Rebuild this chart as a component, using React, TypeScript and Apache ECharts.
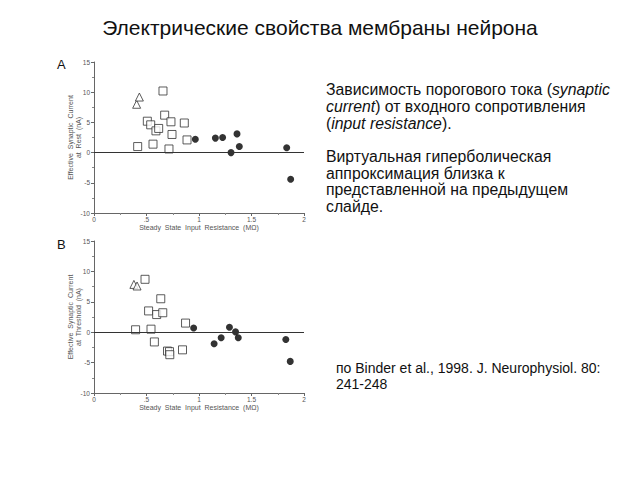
import React, { useEffect, useRef } from "react";
import * as echarts from "echarts";

const xTicks = [0, 0.5, 1, 1.5, 2];
const xTickLabels = ["0", ".5", "1", "1.5", "2"];
const yTicks = [-10, -5, 0, 5, 10, 15];

// Panel A: Effective synaptic current at rest (nA)
const restTriangles = [[0.406, 8.0], [0.432, 9.2]];
const restSquares = [
  [0.657, 10.2], [0.508, 5.2], [0.54, 4.6], [0.59, 3.6], [0.616, 4.0],
  [0.673, 6.2], [0.733, 5.1], [0.86, 4.9], [0.743, 3.0], [0.886, 2.1],
  [0.416, 1.0], [0.562, 1.4], [0.714, 0.6],
];
const restCircles = [
  [0.965, 2.2], [1.156, 2.4], [1.225, 2.5], [1.362, 3.1], [1.305, 0.0],
  [1.384, 1.0], [1.835, 0.8], [1.873, -4.4],
];

// Panel B: Effective synaptic current at threshold (nA)
const thrTriangles = [[0.38, 7.86], [0.41, 7.6]];
const thrSquares = [
  [0.486, 8.7], [0.636, 5.5], [0.52, 3.5], [0.597, 2.9], [0.655, 3.2],
  [0.396, 0.4], [0.543, 0.5], [0.575, -1.6], [0.872, 1.5], [0.70, -3.1],
  [0.719, -3.2], [0.722, -3.7], [0.843, -2.9],
];
const thrCircles = [
  [0.949, 0.7], [1.144, -1.9], [1.211, -0.9], [1.29, 0.8], [1.348, 0.05],
  [1.374, -0.9], [1.827, -1.2], [1.869, -4.8],
];

const title = "Электрические свойства мембраны нейрона";
const xName = "Steady  State  Input  Resistance  (MΩ)";
const yNameA = "Effective  Synaptic  Current\nat  Rest  (nA)";
const yNameB = "Effective  Synaptic  Current\nat  Threshold  (nA)";

const FONT = "'Liberation Sans', Arial, sans-serif";

export default function App() {
  const ref = useRef<HTMLDivElement>(null);
  useEffect(() => {
    if (!ref.current) return;
    const chart = echarts.init(ref.current, null, { renderer: "svg" });

    const mkX = (gi: number) => ({
      type: "value",
      gridIndex: gi,
      min: xTicks[0],
      max: xTicks[xTicks.length - 1],
      interval: 0.5,
      name: xName,
      nameLocation: "middle",
      nameGap: 11,
      nameMoveOverlap: false,
      nameTextStyle: { fontSize: 7, color: "#555", fontFamily: FONT },
      axisLine: { show: true, onZero: false, lineStyle: { color: "#666", width: 1 } },
      axisTick: { show: true, length: 3, lineStyle: { color: "#666" } },
      minorTick: { show: true, splitNumber: 2, length: 2, lineStyle: { color: "#888" } },
      axisLabel: {
        fontSize: 6.5,
        color: "#555",
        margin: 3,
        fontFamily: FONT,
        formatter: (v: number) => xTickLabels[xTicks.indexOf(v)] ?? "",
      },
      splitLine: { show: false },
    });
    const mkY = (gi: number, name: string) => ({
      type: "value",
      gridIndex: gi,
      min: yTicks[0],
      max: yTicks[yTicks.length - 1],
      interval: 5,
      name,
      nameLocation: "middle",
      nameRotate: 90,
      nameGap: 11,
      nameMoveOverlap: false,
      nameTextStyle: { fontSize: 7, color: "#555", fontFamily: FONT, lineHeight: 8.5 },
      axisLine: { show: true, lineStyle: { color: "#666", width: 1 } },
      axisTick: { show: true, length: 3, lineStyle: { color: "#666" } },
      minorTick: { show: true, splitNumber: 2, length: 2, lineStyle: { color: "#888" } },
      axisLabel: { fontSize: 6.5, color: "#555", margin: 4, fontFamily: FONT },
      splitLine: { show: false },
    });

    const zeroLine = {
      silent: true,
      symbol: "none",
      label: { show: false },
      lineStyle: { color: "#333", type: "solid", width: 1 },
      data: [{ yAxis: 0 }],
    };

    const open = { color: "#fff", borderColor: "#333", borderWidth: 1 };
    const filled = { color: "#000" };

    const mkSeries = (gi: number, tri: number[][], sq: number[][], ci: number[][]) => [
      {
        type: "scatter", xAxisIndex: gi, yAxisIndex: gi, data: tri,
        symbol: "triangle", symbolSize: 8, itemStyle: open, markLine: zeroLine,
      },
      {
        type: "scatter", xAxisIndex: gi, yAxisIndex: gi, data: sq,
        symbol: "rect", symbolSize: 8, itemStyle: open,
      },
      {
        type: "scatter", xAxisIndex: gi, yAxisIndex: gi, data: ci,
        symbol: "circle", symbolSize: 7, itemStyle: filled,
      },
    ];

    chart.setOption({
      animation: false,
      backgroundColor: "#fff",
      textStyle: { fontFamily: FONT },
      title: {
        text: title,
        left: "center",
        top: 12,
        textStyle: { fontSize: 21, fontWeight: "normal", color: "#111", fontFamily: FONT },
      },
      grid: [
        { left: 94, top: 62, width: 210, height: 151 },
        { left: 94, top: 241, width: 210, height: 152 },
      ],
      xAxis: [mkX(0), mkX(1)],
      yAxis: [mkY(0, yNameA), mkY(1, yNameB)],
      series: [
        ...mkSeries(0, restTriangles, restSquares, restCircles),
        ...mkSeries(1, thrTriangles, thrSquares, thrCircles),
      ],
      graphic: [
        {
          type: "text", left: 57, top: 58,
          style: { text: "A", fontSize: 13, fill: "#111", fontFamily: FONT },
        },
        {
          type: "text", left: 57, top: 238,
          style: { text: "B", fontSize: 13, fill: "#111", fontFamily: FONT },
        },
        {
          type: "text", x: 326, y: 81,
          style: {
            text:
              "Зависимость порогового тока ({i|synaptic}\n{i|current}) от входного сопротивления\n({i|input resistance}).",
            fontSize: 15.8,
            lineHeight: 17,
            fill: "#111",
            fontFamily: FONT,
            rich: {
              i: { fontStyle: "italic", fontSize: 15.8, lineHeight: 17, fill: "#111", fontFamily: FONT },
            },
          },
        },
        {
          type: "text", x: 326, y: 148,
          style: {
            text:
              "Виртуальная гиперболическая\nаппроксимация близка к\nпредставленной на предыдущем\nслайде.",
            fontSize: 15.8,
            lineHeight: 16.7,
            fill: "#111",
            fontFamily: FONT,
          },
        },
        {
          type: "text", x: 336, y: 360,
          style: {
            text: "по Binder et al., 1998. J. Neurophysiol. 80:\n241-248",
            fontSize: 14,
            lineHeight: 16,
            fill: "#111",
            fontFamily: FONT,
          },
        },
      ],
    });
    return () => chart.dispose();
  }, []);
  return (
    <div
      ref={ref}
      style={{ position: "fixed", left: 0, top: 0, width: 640, height: 480 }}
    />
  );
}
